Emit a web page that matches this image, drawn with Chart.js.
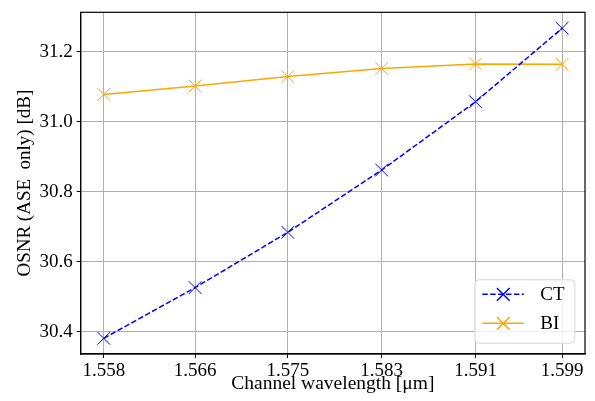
<!DOCTYPE html>
<html>
<head>
<meta charset="utf-8">
<script src="https://cdn.jsdelivr.net/npm/chart.js@4/dist/chart.umd.min.js"></script>
<style>
html,body{margin:0;padding:0;background:#fff;}
#wrap{width:595px;height:401px;}
</style>
</head>
<body>
<div id="wrap"><canvas id="c" width="595" height="401"></canvas></div>
<script>
// Data
const wavelengths = [1.5580, 1.56623, 1.57458, 1.58304, 1.5915, 1.5993];
const tickLabels = ['1.558', '1.566', '1.575', '1.583', '1.591', '1.599'];
const ctValues = [30.381, 30.526, 30.684, 30.862, 31.057, 31.267];
const biValues = [31.078, 31.102, 31.129, 31.152, 31.165, 31.164];
const yTicks = [30.4, 30.6, 30.8, 31.0, 31.2];
const seriesNames = ['CT', 'BI'];

const FONT = '"Liberation Serif", "DejaVu Serif", serif';

const legendPlugin = {
  id: 'boxLegend',
  afterDraw(chart) {
    const ctx = chart.ctx;
    const a = chart.chartArea;
    const x0 = a.right - 110.7, y0 = a.bottom - 74.7, w = 100, h = 63.4;
    ctx.save();
    ctx.beginPath();
    ctx.roundRect(x0 + 0.5, y0 + 0.5, w, h, 4);
    ctx.fillStyle = 'rgba(255,255,255,0.8)';
    ctx.fill();
    ctx.strokeStyle = '#d6d6d6';
    ctx.lineWidth = 1;
    ctx.stroke();
    const rows = [y0 + 15, y0 + 44];
    chart.data.datasets.forEach((ds, i) => {
      const y = rows[i];
      ctx.beginPath();
      ctx.setLineDash(ds.borderDash || []);
      ctx.strokeStyle = ds.borderColor;
      ctx.lineWidth = ds.borderWidth;
      ctx.moveTo(x0 + 8, y);
      ctx.lineTo(x0 + 49.5, y);
      ctx.stroke();
      ctx.setLineDash([]);
      Chart.helpers.drawPoint(ctx, {pointStyle: 'crossRot', radius: 9, borderWidth: 1}, x0 + 29, y);
      ctx.fillStyle = '#000';
      ctx.font = '19px ' + FONT;
      ctx.textBaseline = 'middle';
      ctx.textAlign = 'left';
      ctx.fillText(ds.label, x0 + 66, y + 1);
    });
    ctx.restore();
  }
};

const mk = (vals) => wavelengths.map((x, i) => ({x: x, y: vals[i]}));

new Chart(document.getElementById('c'), {
  type: 'line',
  data: {
    datasets: [
      {
        label: seriesNames[0],
        data: mk(ctValues),
        borderColor: '#0000ff',
        backgroundColor: '#0000ff',
        borderWidth: 1.5,
        borderDash: [5.5, 2.4],
        pointStyle: 'crossRot',
        pointRadius: 9,
        pointBorderWidth: 1,
        pointBorderColor: '#0000ff',
        tension: 0,
        fill: false
      },
      {
        label: seriesNames[1],
        data: mk(biValues),
        borderColor: '#ffa500',
        backgroundColor: '#ffa500',
        borderWidth: 1.5,
        pointStyle: 'crossRot',
        pointRadius: 9,
        pointBorderWidth: 1,
        pointBorderColor: '#ffa500',
        tension: 0,
        fill: false
      }
    ]
  },
  options: {
    responsive: false,
    animation: false,
    devicePixelRatio: 1,
    layout: {padding: {top: 12.3, right: 7, left: 0, bottom: 0}},
    plugins: {
      legend: {display: false},
      tooltip: {enabled: false}
    },
    scales: {
      x: {
        type: 'linear',
        min: 1.55592,
        max: 1.60136,
        afterBuildTicks: (s) => { s.ticks = wavelengths.map(v => ({value: v})); },
        afterFit: (s) => { s.height = 47; s.paddingLeft = 0; s.paddingRight = 0; },
        ticks: {
          callback: (v, i) => tickLabels[i],
          color: '#000',
          font: {family: FONT, size: 19},
          padding: 2,
          maxRotation: 0,
          autoSkip: false
        },
        grid: {color: '#b0b0b0', lineWidth: 1, tickColor: '#000', tickLength: 4, drawTicks: true},
        border: {color: '#000', width: 1.2},
        title: {display: true, text: 'Channel wavelength [μm]', color: '#000', font: {family: FONT, size: 19.5}, padding: {top: 0, bottom: 5}}
      },
      y: {
        type: 'linear',
        min: 30.3363,
        max: 31.3126,
        afterBuildTicks: (s) => { s.ticks = yTicks.map(v => ({value: v})); },
        afterFit: (s) => { s.width = 80.7; s.paddingTop = 0; s.paddingBottom = 0; },
        ticks: {
          callback: (v) => v.toFixed(1),
          color: '#000',
          font: {family: FONT, size: 19},
          padding: 4
        },
        grid: {color: '#b0b0b0', lineWidth: 1, tickColor: '#000', tickLength: 4, drawTicks: true},
        border: {color: '#000', width: 1.2},
        title: {display: true, text: 'OSNR (ASE  only) [dB]', color: '#000', font: {family: FONT, size: 19}, padding: {top: 14, bottom: 2}}
      }
    }
  },
  plugins: [legendPlugin, {
    id: 'frame',
    afterDatasetsDraw(chart) {
      const ctx = chart.ctx, a = chart.chartArea;
      ctx.save();
      ctx.strokeStyle = '#000';
      ctx.lineWidth = 1.2;
      ctx.strokeRect(a.left, a.top, a.right - a.left, a.bottom - a.top);
      ctx.restore();
    }
  }]
});
</script>
</body>
</html>
